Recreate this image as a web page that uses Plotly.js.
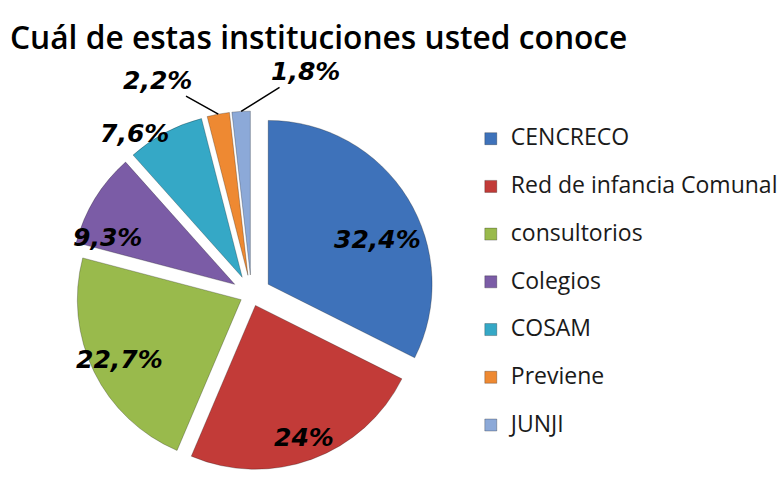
<!DOCTYPE html>
<html>
<head>
<meta charset="utf-8">
<script src="https://cdn.plot.ly/plotly-3.0.1.min.js"></script>
<style>html,body{margin:0;padding:0;background:#fff;}</style>
</head>
<body>
<div id="chart" style="width:783px;height:483px;"></div>
<script>
// ---- data ----
var categories = ['CENCRECO', 'Red de infancia Comunal', 'consultorios', 'Colegios', 'COSAM', 'Previene', 'JUNJI'];
var values = [32.4, 24, 22.7, 9.3, 7.6, 2.2, 1.8];
var colors = ['#3E72BA', '#C23B38', '#99BA4C', '#7B5CA6', '#35A8C6', '#EE8932', '#8CA9D8'];
var pulls = [0.12, 0.07, 0.07, 0.12, 0.12, 0.12, 0.12];

// label placement (fraction of radius from centre, angular nudge in degrees; callout offsets in px)
var labelR = [0.84, 0.93, 0.9, 0.95, 1.22, null, null];
var labelNudge = [8, 0, 0, -10, -8, 0, 0];
var callouts = { 5: [-61, -34], 6: [64, -40] };

var W = 783, H = 483;
var domX = [0.087, 0.557], domY = [0.01, 0.77];

function fmt(v) { return String(v).replace('.', ',') + '%'; }
var labelFont = { family: 'DejaVu Sans', size: 25, color: '#000', weight: 'bold', style: 'italic' };

// pie geometry as plotly computes it
var boxW = (domX[1] - domX[0]) * W, boxH = (domY[1] - domY[0]) * H;
var maxPull = Math.max.apply(null, pulls);
var R = Math.min(boxW, boxH) / 2 / (1 + maxPull);
var cx = (domX[0] + domX[1]) / 2 * W;
var cy = H - (domY[0] + domY[1]) / 2 * H;
var total = values.reduce(function (a, b) { return a + b; }, 0);
var cum = 0;
var annotations = [];
values.forEach(function (v, i) {
  var mid = (cum + v / 2) / total * 2 * Math.PI;
  cum += v;
  if (callouts[i]) {
    var d = R * (1 + pulls[i]);
    annotations.push({
      x: (cx + d * Math.sin(mid)) / W, y: 1 - (cy - d * Math.cos(mid)) / H, xref: 'paper', yref: 'paper',
      text: fmt(v), showarrow: true, arrowhead: 0, arrowwidth: 1.5, arrowcolor: '#000',
      ax: callouts[i][0], ay: callouts[i][1], font: labelFont
    });
  } else {
    var a = mid + labelNudge[i] * Math.PI / 180;
    var r = R * labelR[i];
    annotations.push({
      x: (cx + r * Math.sin(a)) / W, y: 1 - (cy - r * Math.cos(a)) / H, xref: 'paper', yref: 'paper',
      xanchor: 'center', yanchor: 'middle',
      text: fmt(v), showarrow: false, font: labelFont
    });
  }
});

var trace = {
  type: 'pie',
  labels: categories.map(function (c) { return '<span style="font-size:23px">' + c + '</span><br>\u00a0'; }),
  values: values,
  textinfo: 'none',
  sort: false,
  direction: 'clockwise',
  rotation: 0,
  pull: pulls,
  marker: { colors: colors, line: { color: 'rgba(0,0,0,0.25)', width: 1 } },
  domain: { x: domX, y: domY },
  hoverinfo: 'none'
};

var layout = {
  width: W, height: H,
  margin: { l: 0, r: 0, t: 0, b: 0 },
  paper_bgcolor: '#fff',
  title: {
    text: 'Cuál de estas instituciones usted conoce',
    x: 10 / W, xanchor: 'left', xref: 'container',
    y: 1 - 38 / H, yanchor: 'middle', yref: 'container',
    font: { family: 'Open Sans', size: 31.7, color: '#000', weight: 600 }
  },
  showlegend: true,
  legend: {
    x: 472 / W, xanchor: 'left', y: 1 - 121 / H, yanchor: 'top',
    valign: 'top',
    font: { family: 'Open Sans', size: 17.2, color: '#1a1a1a' },
    bgcolor: 'rgba(0,0,0,0)'
  },
  annotations: annotations
};

Plotly.newPlot('chart', [trace], layout, { displayModeBar: false, staticPlot: true });
</script>
</body>
</html>
